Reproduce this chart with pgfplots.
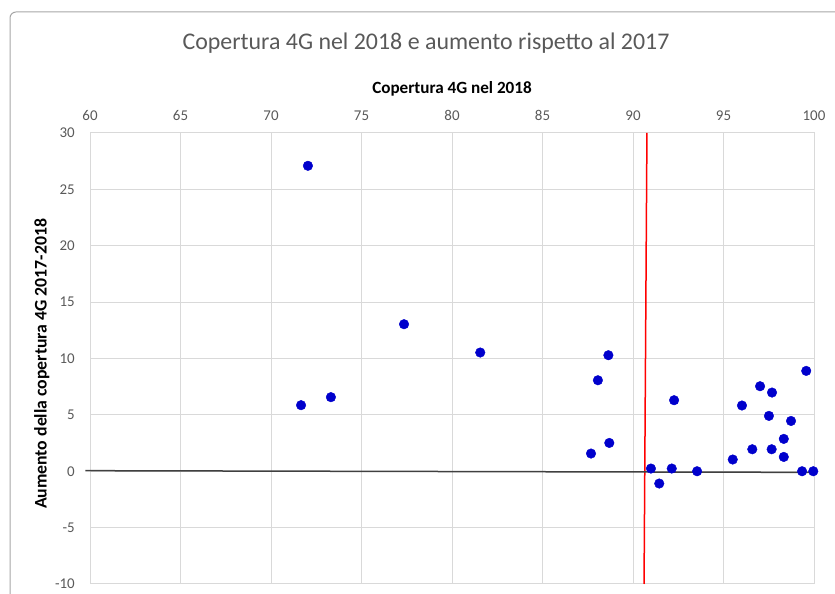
\documentclass[border=0pt]{standalone}
\usepackage{fontspec}
\setmainfont{Carlito}
\usepackage{pgfplots}
\pgfplotsset{compat=1.18}
\definecolor{tickgray}{HTML}{595959}
\definecolor{gridgray}{HTML}{D9D9D9}
\definecolor{ptblue}{HTML}{0000CC}
\definecolor{framegray}{HTML}{A6A6A6}
\begin{document}
\begin{tikzpicture}[x=1bp,y=1bp]
\useasboundingbox (0,0) rectangle (835,594);
\begin{scope}
\clip (0,0) rectangle (835,594);
\draw[color=framegray, line width=1bp, rounded corners=6bp] (10,-20) rectangle (860,582);
\end{scope}
\node[text=tickgray, font=\fontsize{24}{28}\selectfont, anchor=base, inner sep=0pt] at (426,544.7) {Copertura 4G nel 2018 e aumento rispetto al 2017};
\node[font=\bfseries\fontsize{17.2}{20}\selectfont, anchor=base, inner sep=0pt] at (452,500) {Copertura 4G nel 2018};
\node[font=\bfseries\fontsize{17.8}{21}\selectfont, rotate=90, anchor=base, inner sep=0pt] at (46.7,230) {Aumento della copertura 4G 2017-2018};
\begin{axis}[
  at={(90bp,10bp)}, anchor=south west, scale only axis,
  width=724bp, height=451bp,
  xmin=60, xmax=100, ymin=-10, ymax=30,
  xtick distance=5, ytick distance=5,
  xticklabel pos=upper,
  grid=major, grid style={gridgray, line width=1bp},
  axis line style={gridgray, line width=1bp},
  major tick length=0pt,
  tick label style={text=tickgray, font=\fontsize{15}{18}\selectfont, inner sep=0pt},
  /pgf/number format/assume math mode=true,
  xticklabel style={anchor=base, yshift=12bp},
  yticklabel style={anchor=east, xshift=-15bp},
  clip=false,
]
\addplot[red, line width=1.5bp] coordinates {(90.77,30) (90.61,-10)};
\addplot[color=black!75, line width=1.5bp] coordinates {(59.75,0.05) (100,-0.1)};
\addplot[only marks, mark=*, mark size=4.8bp, color=ptblue] coordinates {
(72.04,27.09)
(73.31,6.57)
(71.66,5.86)
(77.35,13.04)
(81.56,10.53)
(88.64,10.29)
(88.06,8.07)
(87.68,1.57)
(88.69,2.51)
(90.99,0.24)
(91.45,-1.09)
(92.14,0.24)
(92.27,6.30)
(93.54,0.00)
(95.51,1.04)
(96.02,5.83)
(96.59,1.95)
(97.02,7.54)
(97.68,6.98)
(97.51,4.91)
(97.66,1.95)
(98.33,2.87)
(98.33,1.27)
(98.73,4.46)
(99.57,8.90)
(99.34,0.00)
(99.96,0.00)
};
\end{axis}
\end{tikzpicture}
\end{document}
